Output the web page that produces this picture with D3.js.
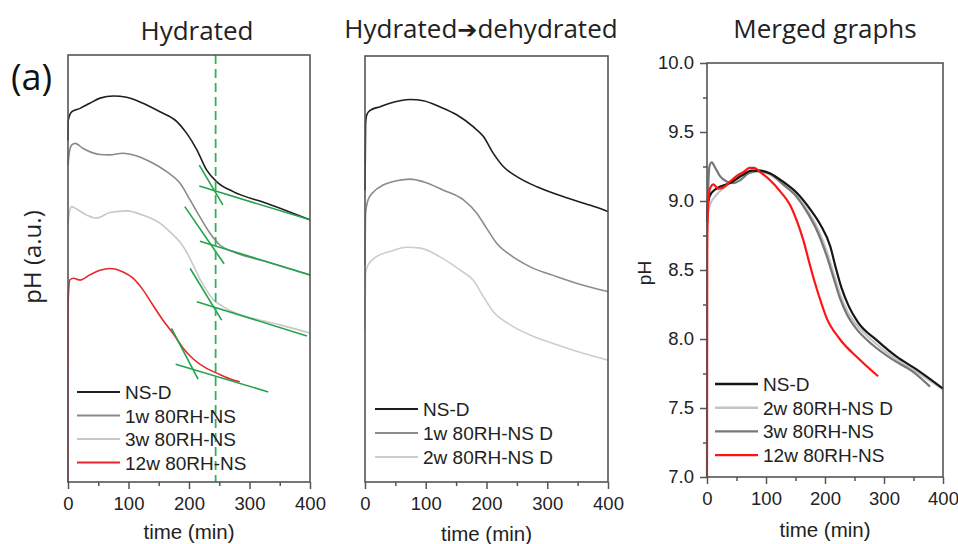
<!DOCTYPE html>
<html>
<head>
<meta charset="utf-8">
<script src="https://cdn.jsdelivr.net/npm/d3@7"></script>
<style>
  body { margin: 0; background: #fff; }
  svg { display: block; }
  .tick text { font-family: "Liberation Sans", Arial, sans-serif; font-size: 18.5px; fill: #222; }
  .legend text { font-family: "Liberation Sans", Arial, sans-serif; font-size: 19px; fill: #222; }
  .axis-label { font-family: "Liberation Sans", Arial, sans-serif; font-size: 20.5px; fill: #222; }
  .title { font-family: "Open Sans", "Noto Sans", sans-serif; font-size: 26px; font-weight: 400; fill: #222; text-anchor: middle; }
</style>
</head>
<body>
<svg id="chart" width="958" height="544"></svg>
<script>
// DATA: time (min) and pH readings
// Panel 1 "Hydrated" (pH in arbitrary units, curves offset)
const hydNSD = [[0,80],[0.5,84.8],[6,86.7],[20,87.5],[36,88.7],[53,89.9],[75,90.4],[97,90.1],[124,88.7],[152,86.7],[180,84.4],[196,81.7],[213,77.8],[229,73.1],[246,70.3],[273,68.0],[328,65.3],[400,61.4]];
const hyd1w = [[0,74.2],[2,77.0],[6,78.9],[12,79.3],[25,78.1],[53,76.7],[69,76.6],[91,77.0],[108,76.6],[136,75.0],[163,72.7],[185,70.0],[202,66.0],[218,62.1],[235,58.2],[251,55.5],[273,53.9],[328,51.6],[400,48.5]];
const hyd3w = [[0,60.2],[2,62.9],[6,64.5],[12,64.1],[31,62.5],[47,61.8],[69,63.1],[97,63.5],[124,62.5],[150,60.8],[170,58.4],[185,56.2],[197,53.6],[207,50.8],[218,47.5],[230,44.7],[241,42.6],[255,41.2],[273,39.8],[306,38.3],[350,36.8],[400,34.9]];
const hyd12w = [[0,0],[0.3,40.3],[0.5,43.1],[3,47.3],[9,47.7],[20,47.3],[36,48.5],[53,49.6],[69,50.0],[91,49.2],[107,47.8],[124,45.0],[140,41.5],[157,37.9],[174,34.7],[190,31.4],[207,28.8],[229,26.6],[246,25.5],[273,23.9],[284,23.5]];
// tangent construction lines [t0, v0, t1, v1]
const tangents = [
  [217,74.2,256,64.9],[217,69.3,400,61.4],
  [193,64.5,258,51.1],[218,56.4,400,48.5],
  [202,50.0,254,37.9],[213,42.2,395,34.2],
  [171,36.0,215,24.1],[178,27.6,331,21.1]
];
const markerTime = 244;

// Panel 2 "Hydrated -> dehydrated"
const dehNSD = [[0,68.5],[1,84.2],[3,86.2],[8,87.2],[25,88.1],[41,88.9],[58,89.5],[74,89.8],[96,89.5],[123,88.1],[151,86.2],[178,83.4],[195,81.1],[211,77.2],[228,74.0],[250,71.7],[283,69.3],[326,67.0],[370,65.0],[400,63.5]];
const deh1w = [[0,50.9],[1,63.1],[5,66.2],[14,68.1],[30,69.7],[52,70.7],[74,71.1],[96,70.5],[129,68.5],[162,66.2],[184,63.1],[200,59.6],[217,56.0],[239,53.3],[272,50.5],[316,48.2],[359,46.2],[400,44.7]];
const deh2w = [[0,35.7],[1,49.0],[5,50.9],[19,52.9],[41,54.1],[69,55.1],[91,54.9],[123,52.9],[156,49.8],[178,47.4],[195,43.5],[211,40.0],[239,36.9],[272,34.5],[316,32.2],[359,30.2],[400,28.6]];

// Panel 3 "Merged graphs" (pH)
const mrgNSD = [[0,8.85],[1,8.96],[5,9.04],[16,9.09],[39,9.13],[61,9.19],[75,9.22],[90,9.22],[107,9.20],[129,9.14],[152,9.06],[175,8.94],[192,8.83],[209,8.67],[218,8.52],[228,8.37],[240,8.24],[256,8.12],[288,7.99],[322,7.87],[355,7.78],[400,7.64]];
const mrg2w = [[0,8.8],[2,8.92],[6,8.98],[15,9.04],[30,9.10],[50,9.16],[70,9.20],[90,9.21],[107,9.19],[129,9.12],[152,9.04],[172,8.92],[190,8.78],[205,8.61],[215,8.47],[226,8.32],[238,8.20],[254,8.10],[284,7.975],[318,7.86],[352,7.77],[400,7.635]];
const mrg3w = [[0,8.9],[2,9.1],[4,9.25],[8,9.28],[14,9.24],[22,9.18],[34,9.14],[45,9.13],[56,9.15],[70,9.20],[87,9.22],[107,9.20],[129,9.12],[152,9.03],[171,8.91],[188,8.77],[203,8.60],[214,8.45],[225,8.30],[237,8.18],[252,8.08],[280,7.96],[315,7.85],[350,7.76],[378,7.655]];
const mrg12w = [[0,7.0],[0.4,8.6],[1,8.85],[3,9.04],[6,9.10],[11,9.12],[19,9.09],[28,9.10],[39,9.14],[50,9.18],[62,9.21],[72,9.24],[80,9.24],[90,9.21],[107,9.15],[124,9.07],[141,8.97],[152,8.86],[163,8.72],[173,8.56],[182,8.42],[190,8.31],[203,8.15],[225,8.00],[259,7.85],[290,7.73]];

// tick values
const timeTicks = [0, 100, 200, 300, 400];
const timeMinor = [50, 150, 250, 350];
const phTicks = [7.0, 7.5, 8.0, 8.5, 9.0, 9.5, 10.0];
const phMinor = [7.25, 7.75, 8.25, 8.75, 9.25, 9.75];

// legends
const hydLabels = ["NS-D", "1w 80RH-NS", "3w 80RH-NS", "12w 80RH-NS"];
const dehLabels = ["NS-D", "1w 80RH-NS D", "2w 80RH-NS D"];
const mrgLabels = ["NS-D", "2w 80RH-NS D", "3w 80RH-NS", "12w 80RH-NS"];

// SETUP
const svg = d3.select("#chart");
const frameColor = "#555";
const green = "#23a24d";

const panels = [
  { left: 68, right: 310, top: 55, bottom: 482 },
  { left: 365, right: 608, top: 56, bottom: 482 },
  { left: 707, right: 943, top: 63, bottom: 477 }
];

function xScale(p) {
  return d3.scaleLinear().domain([0, 400]).range([p.left, p.right]);
}

function drawTimeAxis(p, x) {
  svg.append("g")
      .attr("transform", `translate(0,${p.bottom})`)
      .call(d3.axisBottom(x).tickValues(timeMinor).tickSize(4).tickFormat(""))
      .call(g => g.select(".domain").remove())
      .call(g => g.selectAll("line").attr("stroke", frameColor).attr("stroke-width", 1.5));
  svg.append("g")
      .attr("transform", `translate(0,${p.bottom})`)
      .call(d3.axisBottom(x).tickValues(timeTicks).tickSize(7).tickPadding(8).tickFormat(d3.format("d")))
      .call(g => g.select(".domain").remove())
      .call(g => g.selectAll("line").attr("stroke", frameColor).attr("stroke-width", 1.5));
}

function drawFrame(p) {
  svg.append("rect")
      .attr("x", p.left).attr("y", p.top)
      .attr("width", p.right - p.left).attr("height", p.bottom - p.top)
      .attr("fill", "none")
      .attr("stroke", frameColor)
      .attr("stroke-width", 1.6);
}

function drawSeries(g, data, line, color, w) {
  g.append("path")
      .datum(data)
      .attr("d", line)
      .attr("fill", "none")
      .attr("stroke", color)
      .attr("stroke-width", w)
      .attr("stroke-linejoin", "round");
}

function drawLegend(x0, y0, dy, labels, colors, w) {
  const lg = svg.append("g").attr("class", "legend");
  labels.forEach((lab, i) => {
    lg.append("line")
        .attr("x1", x0).attr("x2", x0 + 43)
        .attr("y1", y0 + i * dy).attr("y2", y0 + i * dy)
        .attr("stroke", colors[i]).attr("stroke-width", w);
    lg.append("text")
        .attr("x", x0 + 48)
        .attr("y", y0 + i * dy + 7)
        .text(lab);
  });
}

/* ===================== PANEL 1: HYDRATED ===================== */
{
  const p = panels[0];
  const x = xScale(p);
  const y = d3.scaleLinear().domain([0, 100]).range([p.bottom, p.bottom - 427]);
  const line = d3.line().x(d => x(d[0])).y(d => y(d[1])).curve(d3.curveMonotoneX);
  const g = svg.append("g");
  const colors = ["#1e1e1e", "#8a8a8a", "#c8c8c8", "#e8262b"];

  drawSeries(g, hyd12w, line, colors[3], 1.6);
  drawSeries(g, hyd3w, line, colors[2], 1.6);
  drawSeries(g, hyd1w, line, colors[1], 1.6);
  drawSeries(g, hydNSD, line, colors[0], 1.6);

  // tangent lines
  g.selectAll(".tangent")
    .data(tangents)
    .enter().append("line")
      .attr("x1", d => x(d[0])).attr("y1", d => y(d[1]))
      .attr("x2", d => x(d[2])).attr("y2", d => y(d[3]))
      .attr("stroke", green).attr("stroke-width", 1.6);

  // dashed marker
  g.append("line")
      .attr("x1", x(markerTime)).attr("x2", x(markerTime))
      .attr("y1", p.top).attr("y2", p.bottom)
      .attr("stroke", "#2eb35c").attr("stroke-width", 1.8)
      .attr("stroke-dasharray", "9,5");

  drawFrame(p);
  drawTimeAxis(p, x);
  drawLegend(77, 392, 23.5, hydLabels, colors, 2);

  svg.append("text")
      .attr("class", "axis-label")
      .attr("text-anchor", "middle")
      .attr("x", (p.left + p.right) / 2)
      .attr("y", 539)
      .text("time (min)");

  svg.append("text")
      .attr("transform", "translate(41,257) rotate(-90)")
      .attr("text-anchor", "middle")
      .style("font-family", "'Open Sans', 'Noto Sans', sans-serif")
      .style("font-size", "24px")
      .attr("fill", "#222")
      .text("pH (a.u.)");

  svg.append("text")
      .attr("x", 11).attr("y", 90)
      .style("font-family", "'Open Sans', 'Noto Sans', sans-serif")
      .style("font-size", "36px")
      .attr("fill", "#111")
      .text("(a)");

  svg.append("text").attr("class", "title")
      .attr("x", 197).attr("y", 40)
      .text("Hydrated");
}

/* ===================== PANEL 2: HYDRATED -> DEHYDRATED ===================== */
{
  const p = panels[1];
  const x = xScale(p);
  const y = d3.scaleLinear().domain([0, 100]).range([p.bottom, p.bottom - 426]);
  const line = d3.line().x(d => x(d[0])).y(d => y(d[1])).curve(d3.curveMonotoneX);
  const g = svg.append("g");
  const colors = ["#1e1e1e", "#8c8c8c", "#cdcdcd"];

  drawSeries(g, deh2w, line, colors[2], 1.6);
  drawSeries(g, deh1w, line, colors[1], 1.6);
  drawSeries(g, dehNSD, line, colors[0], 1.6);

  drawFrame(p);
  drawTimeAxis(p, x);
  drawLegend(375, 409, 24, dehLabels, colors, 2);

  svg.append("text")
      .attr("class", "axis-label")
      .attr("text-anchor", "middle")
      .attr("x", (p.left + p.right) / 2)
      .attr("y", 541)
      .text("time (min)");

  const t2 = svg.append("text").attr("class", "title")
      .attr("x", 481).attr("y", 38);
  t2.append("tspan").text("Hydrated");
  t2.append("tspan")
      .style("font-family", "'DejaVu Sans', sans-serif")
      .style("font-weight", "bold")
      .style("font-size", "24px")
      .text("\u2794");
  t2.append("tspan").text("dehydrated");
}

/* ===================== PANEL 3: MERGED GRAPHS ===================== */
{
  const p = panels[2];
  const x = xScale(p);
  const y = d3.scaleLinear().domain([7, 10]).range([p.bottom, p.top]);
  const line = d3.line().x(d => x(d[0])).y(d => y(d[1])).curve(d3.curveMonotoneX);
  const g = svg.append("g");
  const colors = ["#151515", "#c4c4c4", "#777777", "#ff1414"];

  drawSeries(g, mrg2w, line, colors[1], 2.2);
  drawSeries(g, mrg3w, line, colors[2], 2.2);
  drawSeries(g, mrgNSD, line, colors[0], 2.2);
  drawSeries(g, mrg12w, line, colors[3], 2.2);

  drawFrame(p);
  drawTimeAxis(p, x);

  svg.append("g")
      .attr("transform", `translate(${p.left},0)`)
      .call(d3.axisLeft(y).tickValues(phMinor).tickSize(4).tickFormat(""))
      .call(g => g.select(".domain").remove())
      .call(g => g.selectAll("line").attr("stroke", frameColor).attr("stroke-width", 1.5));
  svg.append("g")
      .attr("transform", `translate(${p.left},0)`)
      .call(d3.axisLeft(y).tickValues(phTicks).tickSize(7).tickPadding(6).tickFormat(d3.format(".1f")))
      .call(g => g.select(".domain").remove())
      .call(g => g.selectAll("line").attr("stroke", frameColor).attr("stroke-width", 1.5));

  drawLegend(715, 384, 23.7, mrgLabels, colors, 2.4);

  svg.append("text")
      .attr("class", "axis-label")
      .attr("text-anchor", "middle")
      .attr("x", (p.left + p.right) / 2)
      .attr("y", 537)
      .text("time (min)");

  svg.append("text")
      .attr("class", "axis-label")
      .attr("transform", "translate(651,273) rotate(-90)")
      .attr("text-anchor", "middle")
      .style("font-size", "19px")
      .text("pH");

  svg.append("text").attr("class", "title")
      .attr("x", 825).attr("y", 38)
      .text("Merged graphs");
}
</script>
</body>
</html>
